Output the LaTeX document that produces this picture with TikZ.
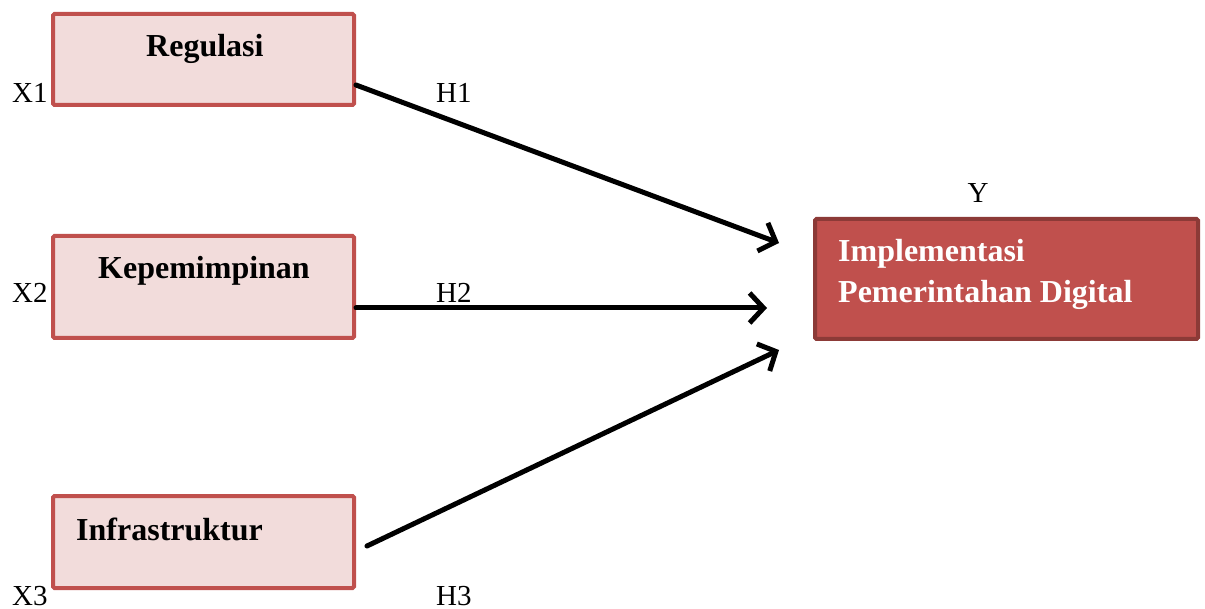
\documentclass[tikz,border=0pt]{standalone}
\usepackage{fontspec}
\setmainfont{Liberation Serif}
\usetikzlibrary{arrows.meta}
\definecolor{boxline}{HTML}{C0504D}
\definecolor{boxfill}{HTML}{F2DCDB}
\definecolor{yfill}{HTML}{C0504D}
\definecolor{yline}{HTML}{8C3A37}
\tikzset{
  varbox/.style={draw=boxline, fill=boxfill, line width=4pt, rounded corners=1.5pt},
  ybox/.style={draw=yline, fill=yfill, line width=4pt, rounded corners=1.5pt},
  boldtxt/.style={font=\fontsize{32}{40}\selectfont\bfseries, anchor=base west, inner sep=0pt},
  lbl/.style={font=\fontsize{29}{34}\selectfont, anchor=base west, inner sep=0pt},
  conn/.style={line width=5pt, line cap=round, line join=round, -{Straight Barb[length=14pt, width=30pt, line width=5pt]}},
}
\begin{document}
\begin{tikzpicture}[x=1pt, y=-1pt]
\useasboundingbox (0,0) rectangle (1205,609);
% boxes
\draw[varbox] (53,14) rectangle (354,105) coordinate (b1se);
\coordinate (b1) at (53,14);
\draw[varbox] (53,236) rectangle (354,338);
\draw[varbox] (53,496) rectangle (354,588);
\draw[ybox] (815,219) rectangle (1198,339);
% box texts
\node[boldtxt] (t1) at (146,57) {Regulasi};
\node[boldtxt] (t2) at (98,279) {Kepemimpinan};
\node[boldtxt] (t3) at (76,540) {Infrastruktur};
\node[boldtxt, text=white] (ty1) at (838,262) {Implementasi};
\node[boldtxt, text=white] (ty2) at (838,303) {Pemerintahan Digital};
% labels
\node[lbl] (x1) at (12,103) {X1};
\node[lbl] (x2) at (12,303) {X2};
\node[lbl] (x3) at (12,605) {X3};
\node[lbl] (h1) at (436,103) {H1};
\node[lbl] (h2) at (436,303) {H2};
\node[lbl] (h3) at (436,605) {H3};
\node[lbl, anchor=base] (y) at (978,203) {Y};
% connector ends
\coordinate (s1) at (356,85);
\coordinate (e1) at (779,243);
\coordinate (s2) at (356,308);
\coordinate (e2) at (767,308);
\coordinate (s3) at (367,546);
\coordinate (e3) at (779,350);
\draw[conn] (s1) -- (e1);
\draw[conn] (s2) -- (e2);
\draw[conn] (s3) -- (e3);
\end{tikzpicture}
\end{document}
